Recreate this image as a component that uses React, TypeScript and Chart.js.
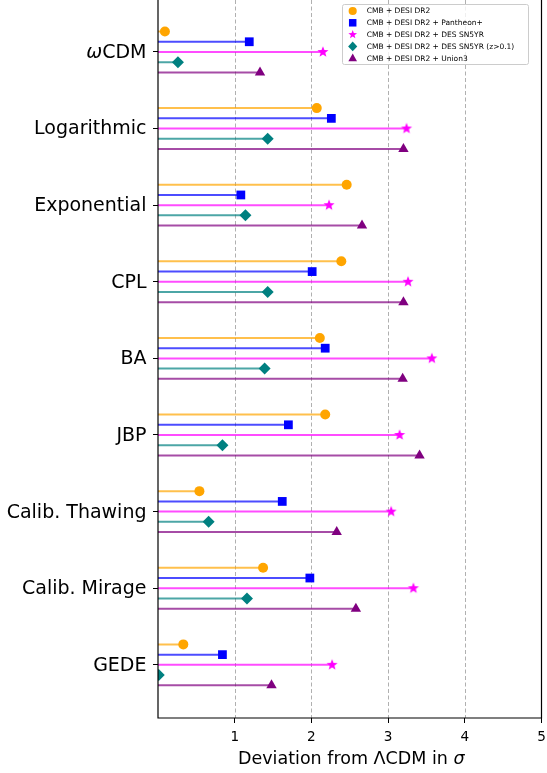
import React, { useEffect, useRef } from "react";
import { Chart, registerables } from "chart.js";

Chart.register(...registerables);

const categories = ["ωCDM", "Logarithmic", "Exponential", "CPL", "BA", "JBP", "Calib. Thawing", "Calib. Mirage", "GEDE"];
const seriesNames = [
  "CMB + DESI DR2",
  "CMB + DESI DR2 + Pantheon+",
  "CMB + DESI DR2 + DES SN5YR",
  "CMB + DESI DR2 + DES SN5YR (z>0.1)",
  "CMB + DESI DR2 + Union3",
];
const cmbDesi = [0.09, 2.07, 2.46, 2.39, 2.11, 2.18, 0.54, 1.37, 0.33];
const pantheon = [1.19, 2.26, 1.08, 2.01, 2.18, 1.7, 1.62, 1.98, 0.84];
const desSN5YR = [2.15, 3.24, 2.23, 3.26, 3.57, 3.15, 3.04, 3.33, 2.27];
const desSN5YRz = [0.26, 1.43, 1.14, 1.43, 1.39, 0.84, 0.66, 1.16, 0.01];
const union3 = [1.33, 3.2, 2.66, 3.2, 3.19, 3.41, 2.33, 2.58, 1.48];
const xTicks = [1, 2, 3, 4, 5];

const seriesValues = [cmbDesi, pantheon, desSN5YR, desSN5YRz, union3];
const colors = ["#FFA500", "#0000FF", "#FF00FF", "#008080", "#800080"];
const lineColors = ["rgba(255,165,0,0.7)", "rgba(0,0,255,0.7)", "rgba(255,0,255,0.7)", "rgba(0,128,128,0.7)", "rgba(128,0,128,0.7)"];
const offsets = [-0.267, -0.133, 0, 0.133, 0.267];
const FONT = "'DejaVu Sans', sans-serif";

function starPath(ctx: CanvasRenderingContext2D, cx: number, cy: number, ro: number, ri: number) {
  ctx.beginPath();
  for (let k = 0; k < 10; k++) {
    const r = k % 2 === 0 ? ro : ri;
    const a = -Math.PI / 2 + (k * Math.PI) / 5;
    const px = cx + r * Math.cos(a);
    const py = cy + r * Math.sin(a);
    if (k === 0) ctx.moveTo(px, py);
    else ctx.lineTo(px, py);
  }
  ctx.closePath();
}

function makeStar(color: string, ro: number) {
  const c = document.createElement("canvas");
  const s = Math.ceil(ro * 2 + 2);
  c.width = s;
  c.height = s;
  const g = c.getContext("2d")!;
  g.fillStyle = color;
  starPath(g, s / 2, s / 2, ro, ro * 0.42);
  g.fill();
  return c;
}

function drawMarker(ctx: CanvasRenderingContext2D, idx: number, x: number, y: number, s: number) {
  ctx.fillStyle = colors[idx];
  ctx.beginPath();
  if (idx === 0) {
    ctx.arc(x, y, s * 0.85, 0, Math.PI * 2);
    ctx.fill();
  } else if (idx === 1) {
    ctx.fillRect(x - s * 0.78, y - s * 0.78, s * 1.56, s * 1.56);
  } else if (idx === 2) {
    starPath(ctx, x, y, s * 0.95, s * 0.4);
    ctx.fill();
  } else if (idx === 3) {
    ctx.moveTo(x, y - s);
    ctx.lineTo(x + s * 0.95, y);
    ctx.lineTo(x, y + s);
    ctx.lineTo(x - s * 0.95, y);
    ctx.closePath();
    ctx.fill();
  } else {
    ctx.moveTo(x, y - s);
    ctx.lineTo(x + s * 0.9, y + s * 0.65);
    ctx.lineTo(x - s * 0.9, y + s * 0.65);
    ctx.closePath();
    ctx.fill();
  }
}

const overlayPlugin = {
  id: "overlay",
  beforeDatasetsDraw(chart: any) {
    const { ctx, chartArea, scales } = chart;
    ctx.save();
    ctx.strokeStyle = "#b0b0b0";
    ctx.lineWidth = 1;
    ctx.setLineDash([4, 2.5]);
    for (const t of xTicks) {
      const px = Math.round(scales.x.getPixelForValue(t)) + 0.5;
      if (px >= chartArea.right - 1) continue;
      ctx.beginPath();
      ctx.moveTo(px, chartArea.top);
      ctx.lineTo(px, chartArea.bottom);
      ctx.stroke();
    }
    ctx.restore();
  },
  afterDatasetsDraw(chart: any) {
    const { ctx, chartArea, scales } = chart;
    ctx.save();
    // spines
    ctx.strokeStyle = "#000";
    ctx.lineWidth = 1.2;
    ctx.setLineDash([]);
    ctx.beginPath();
    ctx.moveTo(chartArea.left, chartArea.top);
    ctx.lineTo(chartArea.left, chartArea.bottom);
    ctx.lineTo(chartArea.right, chartArea.bottom);
    ctx.lineTo(chartArea.right, chartArea.top);
    ctx.stroke();

    // y labels
    ctx.fillStyle = "#000";
    ctx.textBaseline = "middle";
    const rightX = chartArea.left - 11.5;
    categories.forEach((c, i) => {
      const py = scales.y.getPixelForValue(i) + 1;
      if (c.startsWith("ω")) {
        ctx.font = `19px ${FONT}`;
        const rest = c.slice(1);
        const wRest = ctx.measureText(rest).width;
        ctx.textAlign = "left";
        ctx.fillText(rest, rightX - wRest, py);
        ctx.font = `italic 19px ${FONT}`;
        const wO = ctx.measureText("ω").width;
        ctx.fillText("ω", rightX - wRest - wO, py);
      } else {
        ctx.font = `19px ${FONT}`;
        ctx.textAlign = "right";
        ctx.fillText(c, rightX, py);
      }
    });

    // x title
    const t1 = "Deviation from ΛCDM in ";
    ctx.font = `17.5px ${FONT}`;
    const w1 = ctx.measureText(t1).width;
    ctx.font = `italic 17.5px ${FONT}`;
    const w2 = ctx.measureText("σ").width;
    const cx = (chartArea.left + chartArea.right) / 2 + 1.5;
    const startX = cx - (w1 + w2) / 2;
    ctx.textAlign = "left";
    ctx.textBaseline = "alphabetic";
    ctx.font = `17.5px ${FONT}`;
    ctx.fillText(t1, startX, 764);
    ctx.font = `italic 17.5px ${FONT}`;
    ctx.fillText("σ", startX + w1, 764);

    // legend
    const lx = 342, ly = 4, lw = 186, lh = 60;
    ctx.fillStyle = "rgba(255,255,255,0.8)";
    ctx.strokeStyle = "#cccccc";
    ctx.lineWidth = 1;
    ctx.beginPath();
    ctx.roundRect(lx + 0.5, ly + 0.5, lw, lh, 2);
    ctx.fill();
    ctx.stroke();
    ctx.font = `7.5px ${FONT}`;
    ctx.textBaseline = "middle";
    ctx.textAlign = "left";
    seriesNames.forEach((n, i) => {
      const yy = 11 + i * 11.8;
      drawMarker(ctx, i, 352.7, yy, 4.8);
      ctx.fillStyle = "#000";
      ctx.fillText(n, 366.7, yy + 0.5);
    });
    ctx.restore();
  },
};

export default function App() {
  const ref = useRef<HTMLCanvasElement>(null);
  useEffect(() => {
    document.body.style.margin = "0";
    const star = makeStar(colors[2], 5.8);
    const styles: any[] = ["circle", "rect", star, "rectRot", "triangle"];
    const radii = [5, 6.2, 5.5, 6, 6];
    const datasets = seriesValues.map((vals, si) => {
      const data: any[] = [];
      vals.forEach((v, i) => {
        const y = i + offsets[si];
        data.push({ x: 0, y });
        data.push({ x: v, y });
        data.push({ x: null, y: null });
      });
      return {
        label: seriesNames[si],
        data,
        borderColor: lineColors[si],
        borderWidth: 2,
        backgroundColor: colors[si],
        pointBackgroundColor: colors[si],
        pointBorderWidth: 0,
        pointStyle: styles[si],
        pointRadius: (c: any) => (c.dataIndex % 3 === 1 ? radii[si] : 0),
        pointHoverRadius: (c: any) => (c.dataIndex % 3 === 1 ? radii[si] : 0),
        spanGaps: false,
        tension: 0,
        clip: { left: 0, top: false, right: false, bottom: false },
        order: si,
      };
    });
    const chart = new Chart(ref.current!, {
      type: "line",
      data: { datasets },
      options: {
        animation: false,
        responsive: false,
        layout: { padding: { top: 0, right: 5.5, left: 0, bottom: 0 } },
        plugins: { legend: { display: false }, tooltip: { enabled: false }, title: { display: false } },
        scales: {
          x: {
            type: "linear",
            min: 0,
            max: 5,
            afterBuildTicks: (s: any) => {
              s.ticks = xTicks.map((v) => ({ value: v }));
            },
            afterFit: (s: any) => {
              s.height = 55;
              s.paddingRight = 0;
              s.paddingLeft = 0;
            },
            ticks: {
              color: "#000",
              font: { family: FONT, size: 13.6 },
              padding: 6,
              maxRotation: 0,
              callback: (v: any) => String(v),
            },
            grid: { drawOnChartArea: false, drawTicks: true, tickLength: 5, tickColor: "#000", tickWidth: 1 },
            border: { display: false },
          },
          y: {
            type: "linear",
            reverse: true,
            min: -0.678,
            max: 8.694,
            afterBuildTicks: (s: any) => {
              s.ticks = categories.map((_, i) => ({ value: i }));
            },
            afterFit: (s: any) => {
              s.width = 158;
              s.paddingTop = 0;
              s.paddingBottom = 0;
            },
            ticks: { display: false },
            grid: { drawOnChartArea: false, drawTicks: true, tickLength: 5, tickColor: "#000", tickWidth: 1 },
            border: { display: false },
          },
        },
      },
      plugins: [overlayPlugin],
    });
    return () => chart.destroy();
  }, []);
  return (
    <div style={{ position: "absolute", left: 0, top: 0, width: 547, height: 773, background: "#fff" }}>
      <canvas ref={ref} width={547} height={773} />
    </div>
  );
}
